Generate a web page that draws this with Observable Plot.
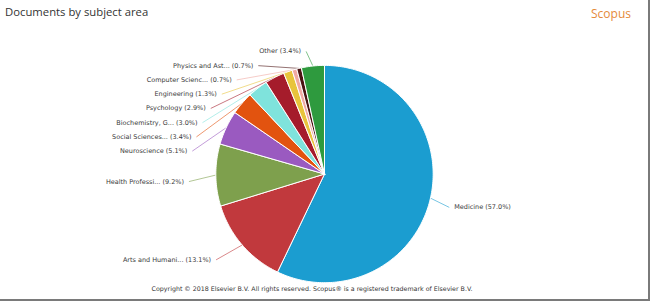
<!DOCTYPE html>
<html><head><meta charset="utf-8">
<script src="https://cdn.jsdelivr.net/npm/d3@7"></script>
<script src="https://cdn.jsdelivr.net/npm/@observablehq/plot@0.6"></script>
<style>
html,body{margin:0;padding:0;background:#fff;}
#wrap{position:relative;width:650px;height:301px;overflow:hidden;box-sizing:border-box;border-right:2px solid #7a7a7a;border-bottom:2px solid #7a7a7a;font-family:"DejaVu Sans",sans-serif;}
#head{position:relative;height:28px;}
#title{position:absolute;left:5px;top:5px;font-family:"Open Sans",sans-serif;font-size:11.3px;line-height:14px;color:#333;}
#brand{position:absolute;right:17px;top:7px;font-family:"Open Sans",sans-serif;font-size:12px;line-height:14px;color:#e58a3a;}
#chart svg{display:block;overflow:visible;}
#caption{position:absolute;left:0;width:624px;top:285px;text-align:center;font-size:6.3px;line-height:8px;color:#333;}
</style>
</head><body>
<div id="wrap">
  <div id="head"><div id="title">Documents by subject area</div><div id="brand">Scopus</div></div>
  <div id="chart"></div>
  <div id="caption">Copyright © 2018 Elsevier B.V. All rights reserved. Scopus® is a registered trademark of Elsevier B.V.</div>
</div>
<script>
const subjects = ["Medicine","Arts and Humani...","Health Professi...","Neuroscience","Social Sciences...","Biochemistry, G...","Psychology","Engineering","Computer Scienc...","Physics and Ast...","Other"];
const shares = [57.0,13.1,9.2,5.1,3.4,3.0,2.9,1.3,0.7,0.7,3.4];
const colors = ["#1b9dd0","#c1393d","#7ea04d","#9a5ac0","#e2530f","#7fe3dc","#a51c2b","#e8c43c","#f0a9a3","#4b1313","#2e9a3e"];

const rows = subjects.map((name,i)=>({name, share:shares[i], color:colors[i], label:`${name} (${shares[i].toFixed(1)}%)`}));
const arcs = d3.pie().sort(null).value(d=>d.share)(rows);

// slice polygons in units of pie radius (y downwards)
const pts = [];
arcs.forEach(a=>{
  const n = Math.max(2, Math.ceil((a.endAngle-a.startAngle)/(Math.PI/180)));
  pts.push({name:a.data.name, color:a.data.color, x:0, y:0});
  for(let k=0;k<=n;k++){
    const t = a.startAngle + (a.endAngle-a.startAngle)*k/n;
    pts.push({name:a.data.name, color:a.data.color, x:Math.sin(t), y:-Math.cos(t)});
  }
  pts.push({name:a.data.name, color:a.data.color, x:0, y:0});
});

// label layout (Highcharts-like)
const U = 109;            // px per unit
const LCX = -4/U, LCY = 6.4/U, LR = 130/U, PAD = 7/U, RL = 122/U;
const BOX = 14.29/U, TOP = -130.15/U, BOTTOM = 110/U, GAP = 5/U;
const labs = arcs.map(a=>{
  const mid = (a.startAngle+a.endAngle)/2;
  return {label:a.data.label, color:a.data.color, mid, left:Math.sin(mid)<0, target:LCY - RL*Math.cos(mid)};
});
function distribute(items){
  const place = g=>{ g.pos = Math.max(TOP, Math.min(BOTTOM-g.size, g.target-g.size/2)); };
  let groups = items.slice().sort((a,b)=>a.target-b.target).map(d=>({items:[d], target:d.target, size:BOX}));
  groups.forEach(place);
  let merged = true;
  while(merged){
    merged = false;
    for(let k=0;k<groups.length-1;k++){
      const a=groups[k], b=groups[k+1];
      if(a.pos+a.size > b.pos+1e-9){
        const its=[...a.items,...b.items];
        const g={items:its, target:d3.mean(its,d=>d.target), size:a.size+b.size};
        place(g); groups.splice(k,2,g); merged=true; break;
      }
    }
  }
  groups.forEach(g=>g.items.forEach((d,j)=>{ d.y = g.pos + BOX*(j+0.5); }));
}
distribute(labs.filter(d=>d.left));
distribute(labs.filter(d=>!d.left));
labs.forEach(d=>{
  const dy = d.y - LCY;
  const w = Math.sqrt(Math.max(0, LR*LR - dy*dy));
  d.tx = d.left ? LCX - PAD - w : LCX + PAD + w;
  d.x1 = d.left ? d.tx + GAP : d.tx - GAP;
  d.x2 = Math.sin(d.mid); d.y2 = -Math.cos(d.mid);
});

const cxPx = 325, cyPx = 174 - 28;
const chart = Plot.plot({
  width: 650, height: 256, margin: 0,
  x: {domain:[-1,1], range:[cxPx-U, cxPx+U], axis:null},
  y: {domain:[-1,1], range:[cyPx-U, cyPx+U], axis:null},
  color: {type:"identity"},
  style: {fontFamily:"DejaVu Sans, sans-serif", background:"transparent", overflow:"visible"},
  marks: [
    Plot.link(labs, {x1:"x1", y1:"y", x2:"x2", y2:"y2", stroke:"color", strokeWidth:0.8, strokeOpacity:0.75}),
    Plot.line(pts, {x:"x", y:"y", z:"name", fill:"color", stroke:"#fff", strokeWidth:1, strokeLinejoin:"round"}),
    Plot.text(labs.filter(d=>d.left), {x:"tx", y:"y", text:"label", textAnchor:"end", fontSize:6.5, fill:"#3a3a3a"}),
    Plot.text(labs.filter(d=>!d.left), {x:"tx", y:"y", text:"label", textAnchor:"start", fontSize:6.5, fill:"#3a3a3a"})
  ]
});
document.getElementById("chart").appendChild(chart);
</script>
</body></html>
